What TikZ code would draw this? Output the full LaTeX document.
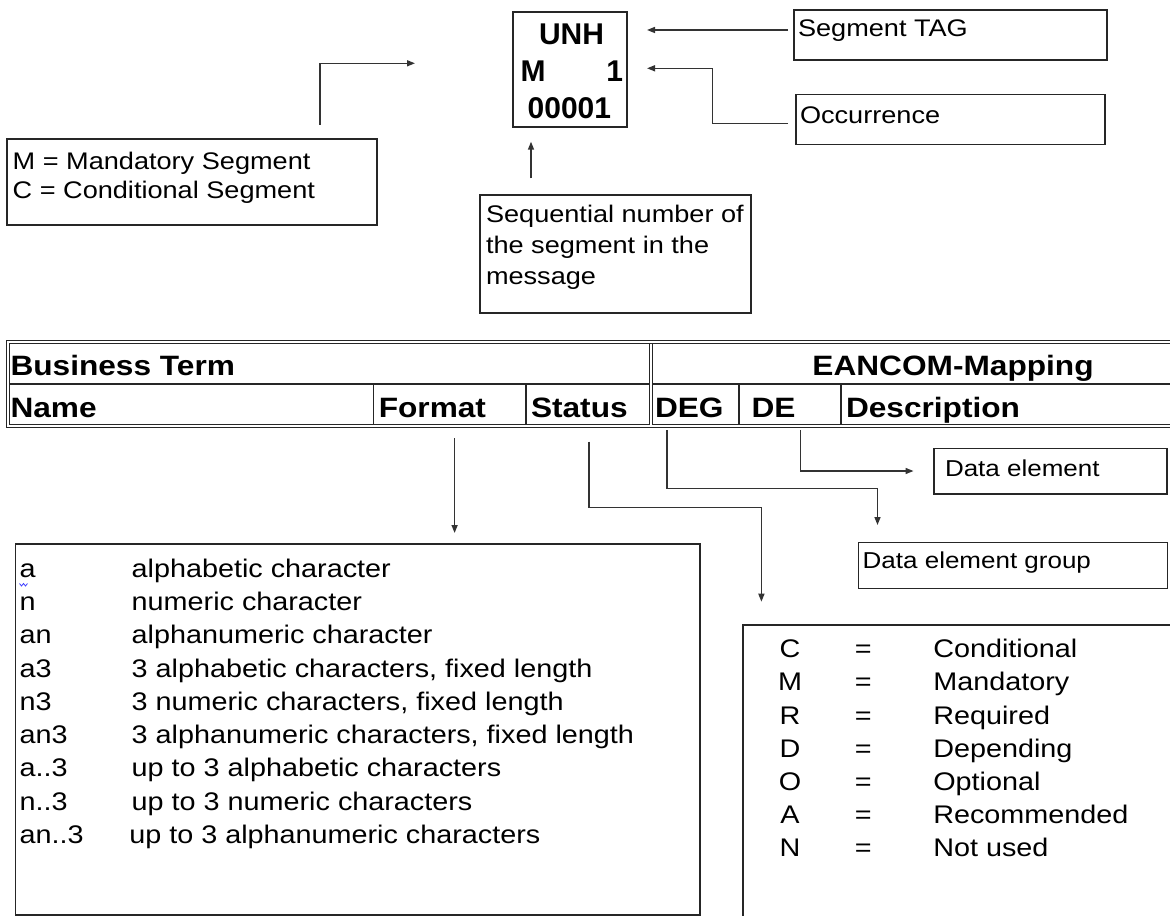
\documentclass[tikz,border=0pt]{standalone}
\usepackage{fontspec}
\setmainfont{Liberation Sans}
\newfontfamily\wide[FakeStretch=1.13]{Liberation Sans}
\usetikzlibrary{arrows.meta}
\newcommand\mkbox[6][]{\node[box,#1,minimum width=#5*0.75pt,minimum height=#6*0.75pt] (#2) at (#3,#4) {};}
\begin{document}
\begin{tikzpicture}[x=0.75pt,y=-0.75pt,
  box/.style={draw=black!85, line width=1pt, inner sep=0pt, outer sep=0pt, anchor=north west},
  conn/.style={draw=black!80, line width=1.1pt},
  arr/.style={conn, -{Triangle[length=6pt,width=4.5pt]}},
  lbl/.style={inner sep=0pt, outer sep=0pt, anchor=base west},
  ann/.style={lbl, font=\wide\fontsize{18}{22}\selectfont},
  lst/.style={lbl, font=\wide\fontsize{19.1}{23}\selectfont},
  lstc/.style={lst, anchor=base},
  dat/.style={lbl, font=\wide\fontsize{17.25}{21}\selectfont},
  hdr/.style={lbl, font=\wide\bfseries\fontsize{21}{25}\selectfont},
  seg/.style={inner sep=0pt, outer sep=0pt, font=\bfseries\fontsize{22.5}{27}\selectfont},
  tbl/.style={draw=black!85, line width=0.9pt},
  dbl/.style={draw=black!85, double, line width=0.8pt, double distance=1.1pt},
]
\useasboundingbox (0,0) rectangle (1170,916);
\clip (0,0) rectangle (1170,916);

% ---------- segment symbol ----------
\mkbox{unhbox}{513}{12}{114}{115}
\node[seg, anchor=base] (unh) at (571.5,45) {UNH};
\node[seg, anchor=base west] (mand) at (520.5,81.7) {M};
\node[seg, anchor=base east] (occn) at (623,81.7) {1};
\node[seg, anchor=base west] (seqno) at (527.7,118.3) {00001};

% ---------- annotation boxes ----------
\mkbox{tagbox}{794}{10}{313}{50}
\node[ann] (tagtxt) at (798,36.7) {Segment TAG};
\mkbox{occbox}{796}{94.3}{309}{50}
\node[ann] (occtxt) at (800,123.3) {Occurrence};
\mkbox{mcbox}{7}{139}{370}{86}
\node[ann] (mtxt) at (12.7,169.3) {M = Mandatory Segment};
\node[ann] (ctxt) at (12.7,198.3) {C = Conditional Segment};
\mkbox{seqbox}{480}{195}{271}{118}
\node[ann] (s1) at (486,222.7) {Sequential number of};
\node[ann] (s2) at (486,253.4) {the segment in the};
\node[ann] (s3) at (486,284.1) {message};

% ---------- top connectors ----------
\coordinate (tagfrom) at (788,30);
\coordinate (tagto) at (647,30);
\draw[arr] (tagfrom) -- (tagto);
\coordinate (occfrom) at (788,123.3);
\coordinate (occbend) at (712.7,68.3);
\coordinate (occto) at (647,68.3);
\draw[arr] (occfrom) -| (occbend) -- (occto);
\coordinate (mcfrom) at (320,125);
\coordinate (mcto) at (415,63.3);
\draw[arr] (mcfrom) |- (mcto);
\coordinate (seqfrom) at (531,178.3);
\coordinate (seqto) at (531,141.7);
\draw[arr] (seqfrom) -- (seqto);

% ---------- table ----------
\draw[dbl] (1180,342) -- (7.8,342) -- (7.8,426) -- (1180,426);
\draw[dbl] (651,343.5) -- (651,424.5);
\draw[tbl] (9.5,384) -- (649.5,384);
\draw[tbl] (652.5,384) -- (1180,384);
\draw[tbl] (373.7,384) -- (373.7,424.5);
\draw[tbl] (526,384) -- (526,424.5);
\draw[tbl] (739,384) -- (739,424.5);
\draw[tbl] (841,384) -- (841,424.5);
\node[hdr] (bt) at (10.5,375) {Business Term};
\node[hdr] (eancom) at (812.4,375) {EANCOM-Mapping};
\node[hdr] (hname) at (10.5,417) {Name};
\node[hdr] (hformat) at (378.8,417) {Format};
\node[hdr] (hstatus) at (531,417) {Status};
\node[hdr] (hdeg) at (655,417) {DEG};
\node[hdr] (hde) at (751.6,417) {DE};
\node[hdr] (hdesc) at (846,417) {Description};

% ---------- lower boxes ----------
\mkbox{debox}{934}{448.3}{233}{45.7}
\node[dat] (detxt) at (945,476) {Data element};
\mkbox{degbox}{858.3}{542.3}{309}{46}
\node[dat] (degtxt) at (862.7,568) {Data element group};

\mkbox{listbox}{15.7}{544}{684.3}{371}
\draw[blue!75, line width=0.6pt] (19.5,583.5) -- (21.5,586) -- (23.5,583.5) -- (25.5,586) -- (27.5,583.5);
\node[lst] (k1) at (19.5,577) {a};
\node[lst] (k2) at (19.5,610.3) {n};
\node[lst] (k3) at (19.5,643.6) {an};
\node[lst] (k4) at (19.5,677) {a3};
\node[lst] (k5) at (19.5,710.2) {n3};
\node[lst] (k6) at (19.5,743.5) {an3};
\node[lst] (k7) at (19.5,776.8) {a..3};
\node[lst] (k8) at (19.5,810) {n..3};
\node[lst] (k9) at (19.5,843.4) {an..3};
\node[lst] (d1) at (131.7,577) {alphabetic character};
\node[lst] (d2) at (131.7,610.3) {numeric character};
\node[lst] (d3) at (131.7,643.6) {alphanumeric character};
\node[lst] (d4) at (131.7,677) {3 alphabetic characters, fixed length};
\node[lst] (d5) at (131.7,710.2) {3 numeric characters, fixed length};
\node[lst] (d6) at (131.7,743.5) {3 alphanumeric characters, fixed length};
\node[lst] (d7) at (131.7,776.8) {up to 3 alphabetic characters};
\node[lst] (d8) at (131.7,810) {up to 3 numeric characters};
\node[lst] (d9) at (129.3,843.4) {up to 3 alphanumeric characters};

\mkbox[line width=1.4pt]{statbox}{742.7}{625}{520}{330}
\node[lstc] (c1) at (790,657.6) {C};
\node[lstc] (c2) at (790,690.8) {M};
\node[lstc] (c3) at (790,724) {R};
\node[lstc] (c4) at (790,757.2) {D};
\node[lstc] (c5) at (790,790.4) {O};
\node[lstc] (c6) at (790,823.6) {A};
\node[lstc] (c7) at (790,856.8) {N};
\foreach \y/\n in {657.6/1,690.8/2,724/3,757.2/4,790.4/5,823.6/6,856.8/7}
  \node[lstc] (eq\n) at (863.3,\y) {=};
\node[lst] (w1) at (933.3,657.6) {Conditional};
\node[lst] (w2) at (933.3,690.8) {Mandatory};
\node[lst] (w3) at (933.3,724) {Required};
\node[lst] (w4) at (933.3,757.2) {Depending};
\node[lst] (w5) at (933.3,790.4) {Optional};
\node[lst] (w6) at (933.3,823.6) {Recommended};
\node[lst] (w7) at (933.3,856.8) {Not used};

% ---------- lower connectors ----------
\coordinate (fmtfrom) at (454.6,438);
\coordinate (fmtto) at (454.6,533);
\draw[arr] (fmtfrom) -- (fmtto);
\coordinate (stfrom) at (589,441.7);
\coordinate (stbend) at (761.4,507.3);
\coordinate (stto) at (761.4,601.7);
\draw[arr] (stfrom) |- (stbend) -- (stto);
\coordinate (degfrom) at (667,430);
\coordinate (degbend) at (877.5,488.3);
\coordinate (degto) at (877.5,525);
\draw[arr] (degfrom) |- (degbend) -- (degto);
\coordinate (defrom) at (800.6,430);
\coordinate (deto) at (913.5,471);
\draw[arr] (defrom) |- (deto);
\end{tikzpicture}
\end{document}
